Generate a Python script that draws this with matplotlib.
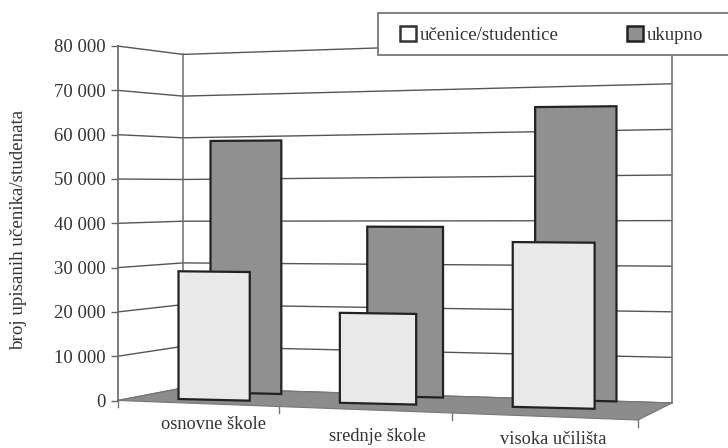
import numpy as np
import matplotlib
matplotlib.use("Agg")
import matplotlib.pyplot as plt
from matplotlib.patches import Polygon, Patch, Rectangle
from matplotlib.ticker import FuncFormatter
from matplotlib.transforms import Transform, Affine2D, IdentityTransform

categories = ["osnovne škole", "srednje škole", "visoka učilišta"]
ucenice = [28400, 19700, 35500]
ukupno = [57800, 38200, 64800]
y_ticks = [0, 10000, 20000, 30000, 40000, 50000, 60000, 70000, 80000]
legend_labels = ["učenice/studentice", "ukupno"]

W, H = 728, 448
plt.rcParams['font.family'] = ['Liberation Serif', 'DejaVu Sans']
TEXT = "#333333"


# ravnina u "3D" prostoru: x = kategorija (0-3), y = vrijednost, izlaz u pikselima
class Plane(Transform):
    input_dims = 2
    output_dims = 2
    is_separable = False

    def __init__(self, x0, width, floor0, slope, k0, k1, warp=1.11):
        super().__init__()
        self.p = (x0, width, floor0, slope, k0, k1, warp)

    def transform_non_affine(self, values):
        x0, width, floor0, slope, k0, k1, warp = self.p
        values = np.asarray(values, dtype=float)
        s = values[:, 0] / 3
        f = s / (s + warp * (1 - s))
        px = x0 + width * f
        py = floor0 + slope * f - (k0 + (k1 - k0) * f) * values[:, 1] / 10000
        return np.column_stack([px, H - py])


front = Plane(118, 520, 400.5, 19.5, 44.3, 48.0)
back = Plane(183, 489, 388, 15, 41.7, 45.6)
side = Plane(118, 65, 400.5, -12.5, 44.3, 41.7, warp=1)
light_plane = Plane(136, 510, 398, 12, 44.8, 47.0)
dark_plane = Plane(170, 495.5, 391.5, 11, 43.3, 45.8)

fig = plt.figure(figsize=(W / 100, H / 100), dpi=100)
ax = fig.add_axes([118 / W, (H - 400.5) / H, 520 / W, 354.5 / H])
ax.patch.set_visible(False)

# zidovi i mreza
for v in y_ticks:
    ax.plot([0, 3], [v, v], transform=back, color="#555555", lw=1.0, clip_on=False, zorder=1)
    ax.plot([0, 3], [v, v], transform=side, color="#555555", lw=1.0, clip_on=False, zorder=1)
ax.plot([0, 0], [0, 80000], transform=back, color="#777777", lw=1.2, clip_on=False, zorder=1)
ax.plot([3, 3], [0, 80000], transform=back, color="#777777", lw=1.2, clip_on=False, zorder=1)

# pod
floor_pts = np.vstack([front.transform(np.array([[0.0, 0], [3, 0]])),
                       back.transform(np.array([[3.0, 0], [0, 0]]))])
ax.add_patch(Polygon(floor_pts, closed=True, transform=IdentityTransform(), facecolor="#8c8c8c",
                     edgecolor="#777777", lw=0.8, clip_on=False, zorder=2))
for u in range(4):
    ax.plot([u, u], [0, -1500], transform=front, color="#777777", lw=1.0, clip_on=False, zorder=2)

# stupci
pos = np.arange(len(categories)) + 0.5
ax.bar(pos, ukupno, width=0.46, transform=dark_plane, color="#909090", edgecolor="#222222",
       lw=1.6, clip_on=False, zorder=3)
ax.bar(pos, ucenice, width=0.45, transform=light_plane, color="#e9e9e9", edgecolor="#222222",
       lw=1.6, clip_on=False, zorder=4)

# os y
ax.set_xlim(0, 3)
ax.set_ylim(0, 80000)
ax.set_yticks(y_ticks)
ax.yaxis.set_major_formatter(FuncFormatter(lambda v, _: f"{int(v):,}".replace(",", " ")))
ax.set_xticks([])
ax.tick_params(axis="y", length=5, width=1, color="#666666", labelcolor=TEXT, labelsize=13.5, pad=4)
for name in ["top", "right", "bottom"]:
    ax.spines[name].set_visible(False)
ax.spines["left"].set_color("#666666")
ax.spines["left"].set_linewidth(1.2)
ax.set_ylabel("broj upisanih učenika/studenata", fontsize=13.7, color=TEXT)
ax.yaxis.set_label_coords(-0.175, 0.481)

# nazivi kategorija
label_drop = [25, 33, 31.5]
for p, name, d in zip(pos, categories, label_drop):
    ax.text(p, 0, name, transform=light_plane + Affine2D().translate(0, -d), ha="center", va="center",
            fontsize=13.2, color=TEXT)

# legenda: okvir ide do ruba slike
fig.add_artist(Rectangle((378 / W, (H - 55) / H), 352 / W, 42 / H, transform=fig.transFigure,
                         facecolor="white", edgecolor="#777777", lw=1.3, zorder=9))
handles = [Patch(facecolor="white", edgecolor="#333333", lw=1.8),
           Patch(facecolor="#909090", edgecolor="#222222", lw=1.8)]
leg = fig.legend(handles, legend_labels, ncols=2, mode="expand",
                 bbox_to_anchor=(400 / W, (H - 47) / H, 303 / W, 24 / H), loc="center left",
                 borderaxespad=0, borderpad=0, fontsize=13.5, handlelength=0.85, handleheight=0.85,
                 handletextpad=0.2, frameon=False, labelcolor=TEXT)
leg.set_zorder(10)

fig.savefig("out.png", dpi=100)
